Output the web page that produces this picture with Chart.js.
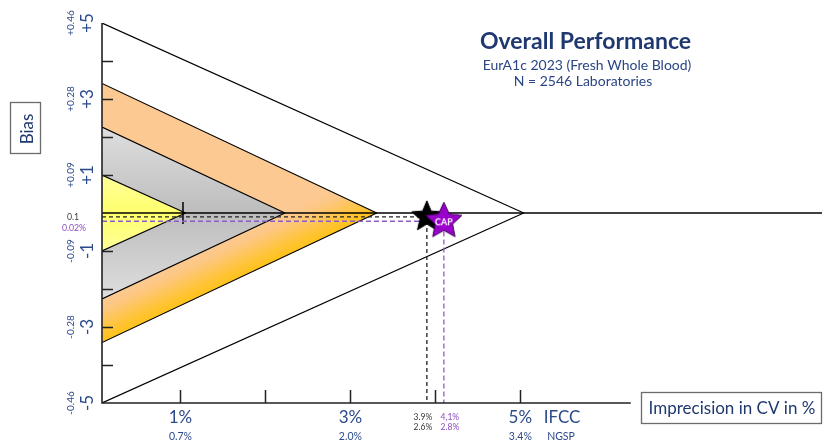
<!DOCTYPE html>
<html>
<head>
<meta charset="utf-8">
<script src="https://cdn.jsdelivr.net/npm/chart.js@4.4.1/dist/chart.umd.min.js"></script>
<style>
  html, body { margin: 0; padding: 0; background: #ffffff; }
  #wrap { width: 825px; height: 443px; position: relative; }
</style>
</head>
<body>
<div id="wrap"><canvas id="chart" width="825" height="443"></canvas></div>
<script>
// ---- Axis ranges (IFCC units; NGSP axes are scaled copies) ----
const cvMin = 0.077;
const cvMax = 8.55;
const cvAxisEnd = 6.3;
const biasMin = -5;
const biasMax = 5;
const ngspBiasMin = -0.46;
const ngspBiasMax = 0.46;

// ---- Performance zones: bias at the bias axis and CV at zero bias ----
const zoneBias = [5, 3.41, 2.26, 1.0];
const zoneCV = [5.04, 3.31, 2.23, 1.06];

// ---- Tick labels ----
const yTickValues = [5, 3, 1, -1, -3, -5];
const yTickLabels = ['+5', '+3', '+1', '-1', '-3', '-5'];
const yNgspLabels = ['+0.46', '+0.28', '+0.09', '-0.09', '-0.28', '-0.46'];
const yTickMarks = [4, 3, 2, 1, -1, -2, -3, -4];
const xTickValues = [1, 3, 5];
const xTickLabels = ['1%', '3%', '5%'];
const xNgspLabels = ['0.7%', '2.0%', '3.4%'];
const xTickMarks = [1, 2, 3, 4, 5];

// ---- Results ----
const labBias = -0.1;        // mmol/mol (IFCC)
const labCV = 3.9;           // % IFCC
const labCVNgsp = 2.6;       // % NGSP
const capBiasNgsp = -0.02;   // % NGSP
const capCV = 4.1;           // % IFCC
const capCVNgsp = 2.8;       // % NGSP
const targetMarkCV = 1.03;

const NAVY = '#1f3870';
const BLUE = '#2c4a8a';
const GREY_TXT = '#3a3a3a';
const PURPLE_TXT = '#8d4cc0';
const FONT = 'Lato, "Open Sans", sans-serif';

function starCanvas(R, ratio, fill, stroke, text) {
  const size = Math.ceil(2 * R + 4);
  const cv = document.createElement('canvas');
  cv.width = size; cv.height = size;
  const g = cv.getContext('2d');
  const c = size / 2;
  g.beginPath();
  for (let k = 0; k < 10; k++) {
    const r = k % 2 ? R * ratio : R;
    const a = -Math.PI / 2 + k * Math.PI / 5;
    g.lineTo(c + r * Math.cos(a), c + r * Math.sin(a));
  }
  g.closePath();
  g.fillStyle = fill; g.fill();
  g.strokeStyle = stroke; g.lineWidth = 1; g.stroke();
  if (text) {
    g.fillStyle = '#ffffff';
    g.font = 'bold 9px ' + FONT;
    g.textAlign = 'center';
    g.textBaseline = 'middle';
    g.fillText(text, c, c + 1);
  }
  return cv;
}

// Fill styles for the zones, built from scale pixels
function orangeFill(ctx) {
  const chart = ctx.chart;
  if (!chart.chartArea) return '#fdc27a';
  const xs = chart.scales.x, ys = chart.scales.y;
  const px = xs.getPixelForValue(cvMin);
  const out = { x: px, y: ys.getPixelForValue(-zoneBias[1]) };
  const apex = { x: xs.getPixelForValue(zoneCV[1]), y: ys.getPixelForValue(0) };
  const dx = apex.x - out.x, dy = apex.y - out.y;
  const len = Math.hypot(dx, dy);
  const n = { x: -dy / len, y: dx / len };
  const inner = { x: px, y: ys.getPixelForValue(-zoneBias[2]) };
  const s = (inner.x - out.x) * n.x + (inner.y - out.y) * n.y;
  const g = chart.ctx.createLinearGradient(out.x + n.x * s, out.y + n.y * s, out.x, out.y);
  g.addColorStop(0, '#fcc992');
  g.addColorStop(0.25, '#fdc782');
  g.addColorStop(0.75, '#ffc437');
  g.addColorStop(1, '#ffc21a');
  return g;
}
function grayFill(ctx) {
  const chart = ctx.chart;
  if (!chart.chartArea) return '#cccccc';
  const ys = chart.scales.y;
  const g = chart.ctx.createLinearGradient(0, ys.getPixelForValue(zoneBias[2]), 0, ys.getPixelForValue(-zoneBias[2]));
  g.addColorStop(0, '#dedede');
  g.addColorStop(0.5, '#bdbdbd');
  g.addColorStop(1, '#dedede');
  return g;
}
function yellowFill(ctx) {
  const chart = ctx.chart;
  if (!chart.chartArea) return '#ffff88';
  const ys = chart.scales.y;
  const g = chart.ctx.createLinearGradient(0, ys.getPixelForValue(zoneBias[3]), 0, ys.getPixelForValue(-zoneBias[3]));
  g.addColorStop(0, '#ffff9a');
  g.addColorStop(0.5, '#ffff6c');
  g.addColorStop(1, '#ffff9a');
  return g;
}

const zoneFills = [null, orangeFill, grayFill, yellowFill];
const zoneOrder = [60, 50, 40, 30];

const datasets = [];
zoneBias.forEach((b, i) => {
  [1, -1].forEach(sign => {
    datasets.push({
      type: 'line',
      label: 'zone' + i + (sign > 0 ? 'U' : 'L'),
      data: [{ x: cvMin, y: sign * b }, { x: zoneCV[i], y: 0 }],
      borderColor: '#000000',
      borderWidth: 1.2,
      pointRadius: 0,
      fill: zoneFills[i] ? 'origin' : false,
      backgroundColor: zoneFills[i] || 'rgba(0,0,0,0)',
      order: zoneOrder[i]
    });
  });
});

// zero-bias line
datasets.push({
  type: 'line', label: 'zero',
  data: [{ x: cvMin, y: 0 }, { x: cvMax, y: 0 }],
  borderColor: '#000000', borderWidth: 1.3, pointRadius: 0, fill: false, order: 20
});

// target mark
datasets.push({
  type: 'scatter', label: 'mark',
  data: [{ x: targetMarkCV, y: 0 }],
  pointStyle: 'line', rotation: 90, radius: 11,
  borderColor: '#000000', borderWidth: 1.5, order: 15
});

// guide lines to the results
datasets.push({
  type: 'line', label: 'labGuide',
  data: [{ x: cvMin, y: labBias }, { x: labCV, y: labBias }, { x: labCV, y: biasMin }],
  borderColor: '#222222', borderWidth: 1.3, borderDash: [4, 3],
  pointRadius: 0, fill: false, order: 10
});
datasets.push({
  type: 'line', label: 'capGuide', yAxisID: 'yN',
  data: [{ x: cvMin, y: capBiasNgsp }, { x: capCV, y: capBiasNgsp }, { x: capCV, y: ngspBiasMin }],
  borderColor: '#8a5cc8', borderWidth: 1.3, borderDash: [5, 3],
  pointRadius: 0, fill: false, order: 9
});

// result stars
datasets.push({
  type: 'scatter', label: 'Laboratories',
  data: [{ x: labCV, y: labBias }],
  pointStyle: starCanvas(16, 0.45, '#000000', '#000000', null),
  order: 5
});
datasets.push({
  type: 'scatter', label: 'CAP', yAxisID: 'yN',
  data: [{ x: capCV, y: capBiasNgsp }],
  pointStyle: starCanvas(19, 0.48, '#9a00cc', '#3a0050', 'CAP'),
  order: 1
});

function rotText(g, text, x, y, font, color) {
  g.save();
  g.translate(x, y);
  g.rotate(-Math.PI / 2);
  g.font = font;
  g.fillStyle = color;
  g.textAlign = 'center';
  g.textBaseline = 'alphabetic';
  g.fillText(text, 0, 0);
  g.restore();
}
function text(g, t, x, y, font, color, align) {
  g.font = font;
  g.fillStyle = color;
  g.textAlign = align || 'center';
  g.textBaseline = 'alphabetic';
  g.fillText(t, x, y);
}

const decor = {
  id: 'decor',
  afterDatasetsDraw(chart) {
    const g = chart.ctx;
    const xs = chart.scales.x, ys = chart.scales.y;
    const x0 = xs.getPixelForValue(cvMin);
    const yTop = ys.getPixelForValue(biasMax);
    const yBot = ys.getPixelForValue(biasMin);
    g.save();
    // axes
    g.strokeStyle = '#222222';
    g.lineWidth = 1.6;
    g.beginPath();
    g.moveTo(x0, yTop); g.lineTo(x0, yBot);
    g.lineTo(xs.getPixelForValue(cvAxisEnd), yBot);
    g.stroke();
    // tick marks
    g.lineWidth = 1.5;
    g.beginPath();
    yTickMarks.forEach(v => {
      const y = Math.round(ys.getPixelForValue(v)) + 0.5;
      g.moveTo(x0, y); g.lineTo(x0 + 11, y);
    });
    xTickMarks.forEach(v => {
      const x = Math.round(xs.getPixelForValue(v)) + 0.5;
      g.moveTo(x, yBot); g.lineTo(x, yBot - 13);
    });
    g.stroke();

    // bias tick labels (IFCC and NGSP)
    yTickValues.forEach((v, i) => {
      const y = ys.getPixelForValue(v);
      rotText(g, yTickLabels[i], x0 - 9, y, '17px ' + FONT, BLUE);
      rotText(g, yNgspLabels[i], x0 - 28, y, '10px ' + FONT, BLUE);
    });
    // CV tick labels
    xTickValues.forEach((v, i) => {
      const x = xs.getPixelForValue(v);
      text(g, xTickLabels[i], x, 423, '17px ' + FONT, BLUE);
      text(g, xNgspLabels[i], x, 440, '10.5px ' + FONT, BLUE);
    });
    text(g, 'IFCC', 562, 423, '17px ' + FONT, BLUE);
    text(g, 'NGSP', 561, 440, '10.5px ' + FONT, BLUE);

    // result values
    const labX = xs.getPixelForValue(labCV) - 4;
    const capX = xs.getPixelForValue(capCV) + 6;
    text(g, labCV.toFixed(1) + '%', labX, 419.5, '8.5px ' + FONT, GREY_TXT);
    text(g, labCVNgsp.toFixed(1) + '%', labX, 430, '8.5px ' + FONT, GREY_TXT);
    text(g, capCV.toFixed(1).replace('.', ',') + '%', capX, 419.5, '8.5px ' + FONT, PURPLE_TXT);
    text(g, capCVNgsp.toFixed(1) + '%', capX, 430, '8.5px ' + FONT, PURPLE_TXT);
    text(g, String(Math.abs(labBias)), 73, 220, '8.7px ' + FONT, GREY_TXT);
    text(g, Math.abs(capBiasNgsp).toFixed(2) + '%', 74, 231, '8.7px ' + FONT, PURPLE_TXT);

    // titles
    text(g, 'Overall Performance', 585.5, 49.3, 'bold 23px ' + FONT, NAVY);
    text(g, 'EurA1c 2023 (Fresh Whole Blood)', 587, 70, '14px ' + FONT, '#2a4684');
    text(g, 'N = 2546 Laboratories', 583, 86, '14px ' + FONT, '#2a4684');

    // axis title boxes
    g.strokeStyle = '#6b6b6b';
    g.lineWidth = 1.3;
    g.strokeRect(10.5, 102.5, 30, 51);
    rotText(g, 'Bias', 32.5, 129, '17px ' + FONT, NAVY);
    g.strokeRect(641.5, 392.5, 180, 31);
    text(g, 'Imprecision in CV in %', 732, 414, '17px ' + FONT, NAVY);
    g.restore();
  }
};

new Chart(document.getElementById('chart'), {
  type: 'scatter',
  data: { datasets },
  options: {
    responsive: false,
    animation: false,
    events: [],
    layout: { autoPadding: false, padding: { left: 102, right: 3, top: 23, bottom: 40 } },
    plugins: { legend: { display: false }, tooltip: { enabled: false } },
    scales: {
      x: { type: 'linear', min: cvMin, max: cvMax, display: false },
      y: { type: 'linear', min: biasMin, max: biasMax, display: false },
      yN: { type: 'linear', min: ngspBiasMin, max: ngspBiasMax, display: false }
    }
  },
  plugins: [decor]
});
</script>
</body>
</html>
